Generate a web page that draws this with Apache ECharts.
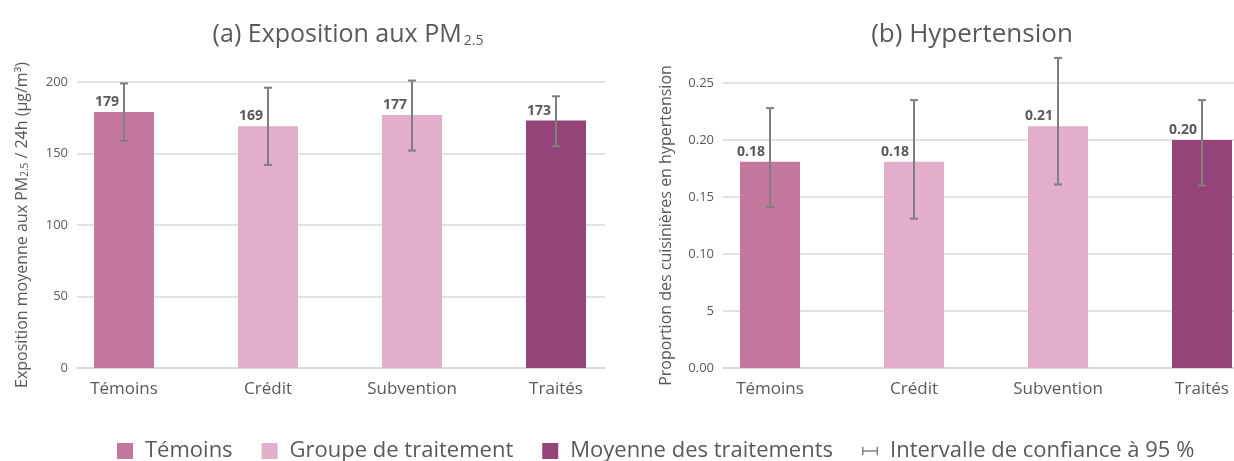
<!DOCTYPE html>
<html>
<head>
<meta charset="utf-8">
<script src="https://cdn.jsdelivr.net/npm/echarts@6/dist/echarts.min.js"></script>
<style>
  html, body { margin: 0; padding: 0; background: #fff; }
  #chart { width: 1234px; height: 461px; }
</style>
</head>
<body>
<div id="chart"></div>
<script>
// categories and groups
const categories = ['Témoins', 'Crédit', 'Subvention', 'Traités'];
const groupOf = ['Témoins', 'Groupe de traitement', 'Groupe de traitement', 'Moyenne des traitements'];
const groupNames = ['Témoins', 'Groupe de traitement', 'Moyenne des traitements'];
const groupColors = ['#C4779D', '#E3AEC9', '#944479'];
const ciName = 'Intervalle de confiance à 95 %';

// (a) exposition PM2.5
const pmMeans = [179, 169, 177, 173];
const pmLow = [159, 142, 152, 155];
const pmHigh = [199, 196, 201, 190];

// (b) hypertension
const htMeans = [0.181, 0.181, 0.212, 0.200];
const htLow = [0.141, 0.131, 0.161, 0.160];
const htHigh = [0.228, 0.235, 0.272, 0.235];
const htTicks = ['0.00', '5', '0.10', '0.15', '0.20', '0.25'];

const FONT = 'Open Sans';
const TXT = '#595959';
const GRID_C = '#d9d9d9';

const chart = echarts.init(document.getElementById('chart'));

// barres d'erreur
function errRender(params, api) {
    const x = api.value(0);
    const lo = api.coord([x, api.value(1)]);
    const hi = api.coord([x, api.value(2)]);
    const cap = 4;
    const st = { stroke: '#7f7f7f', lineWidth: 2 };
    return {
        type: 'group',
        children: [
            { type: 'line', shape: { x1: lo[0], y1: lo[1], x2: hi[0], y2: hi[1] }, style: st },
            { type: 'line', shape: { x1: lo[0] - cap, y1: lo[1], x2: lo[0] + cap, y2: lo[1] }, style: st },
            { type: 'line', shape: { x1: hi[0] - cap, y1: hi[1], x2: hi[0] + cap, y2: hi[1] }, style: st }
        ]
    };
}

function barSeries(means, axisIdx, stackName, fmt) {
    return groupNames.map((g, gi) => ({
        name: g,
        type: 'bar',
        xAxisIndex: axisIdx,
        yAxisIndex: axisIdx,
        stack: stackName,
        barWidth: 60,
        itemStyle: { color: groupColors[gi] },
        label: {
            show: true,
            // à gauche de la barre d'erreur
            position: [25, -3],
            verticalAlign: 'bottom',
            align: 'right',
            color: TXT,
            fontFamily: FONT,
            fontWeight: 'bold',
            fontSize: 14,
            formatter: p => fmt(p.value)
        },
        data: means.map((v, i) => groupOf[i] === g ? v : '-')
    }));
}

function errSeries(low, high, axisIdx) {
    return {
        name: ciName,
        type: 'custom',
        xAxisIndex: axisIdx,
        yAxisIndex: axisIdx,
        itemStyle: { color: '#808080' },
        z: 5,
        clip: false,
        encode: { x: 0, y: [1, 2] },
        renderItem: errRender,
        data: categories.map((c, i) => [i, low[i], high[i]])
    };
}

const yNameA = '{n|Exposition moyenne aux PM}{s|2.5}{n| / 24h (µg/m³)}';

chart.setOption({
    animation: false,
    title: [
        {
            text: '{t|(a) Exposition aux PM}{s|2.5}',
            left: 343, top: 17, textAlign: 'center',
            textStyle: {
                rich: {
                    t: { fontFamily: FONT, fontSize: 25, color: TXT, fontWeight: 'normal' },
                    s: { fontFamily: FONT, fontSize: 14, color: TXT, fontWeight: 'normal', verticalAlign: 'bottom', padding: [12, 0, 0, 2] }
                }
            }
        },
        {
            text: '(b) Hypertension',
            left: 967, top: 17, textAlign: 'center',
            textStyle: { fontFamily: FONT, fontSize: 26, color: TXT, fontWeight: 'normal' }
        }
    ],
    legend: {
        bottom: -6,
        left: 112,
        itemWidth: 16,
        itemHeight: 16,
        itemGap: 29,
        textStyle: { fontFamily: FONT, fontSize: 22, color: TXT, padding: [0, 0, 0, 7] },
        data: [
            { name: 'Témoins', icon: 'rect' },
            { name: 'Groupe de traitement', icon: 'rect' },
            { name: 'Moyenne des traitements', icon: 'rect' },
            { name: ciName, icon: 'path://M0,0h2v12h-2zM2,5h18v2h-18zM20,0h2v12h-2z' }
        ]
    },
    grid: [
        { left: 77, right: 629, top: 82, bottom: 93, outerBoundsMode: 'none' },
        { left: 52, width: 576, top: 82, bottom: 93, outerBoundsMode: 'none' },
        { left: 723, right: 0, top: 83, bottom: 93, outerBoundsMode: 'none' },
        { left: 698, width: 576, top: 83, bottom: 93, outerBoundsMode: 'none' }
    ],
    xAxis: [
        { gridIndex: 0, type: 'category', data: categories,
          axisLine: { show: true, lineStyle: { color: GRID_C, width: 2 } },
          axisTick: { show: false }, axisLabel: { show: false } },
        { gridIndex: 1, type: 'category', data: categories,
          axisLine: { show: false }, axisTick: { show: false },
          axisLabel: { color: TXT, fontFamily: FONT, fontSize: 17, margin: 13 } },
        { gridIndex: 2, type: 'category', data: categories,
          axisLine: { show: true, lineStyle: { color: GRID_C, width: 2 } },
          axisTick: { show: false }, axisLabel: { show: false } },
        { gridIndex: 3, type: 'category', data: categories,
          axisLine: { show: false }, axisTick: { show: false },
          axisLabel: { color: TXT, fontFamily: FONT, fontSize: 17, margin: 13 } }
    ],
    yAxis: [
        { gridIndex: 0, type: 'value', min: 0, max: 200, interval: 50,
          axisLine: { show: false }, axisTick: { show: false },
          axisLabel: { color: TXT, fontFamily: FONT, fontSize: 13, margin: 9 },
          splitLine: { lineStyle: { color: GRID_C, width: 1.5 } },
          name: yNameA, nameLocation: 'middle', nameGap: 47, nameRotate: 90, nameMoveOverlap: false,
          nameTextStyle: {
              rich: {
                  n: { fontFamily: FONT, fontSize: 16, color: TXT },
                  s: { fontFamily: FONT, fontSize: 10, color: TXT, verticalAlign: 'bottom' }
              }
          } },
        { gridIndex: 1, type: 'value', min: 0, max: 200, interval: 50, show: false },
        { gridIndex: 2, type: 'value', min: 0, max: 0.25, interval: 0.05,
          axisLine: { show: false }, axisTick: { show: false },
          axisLabel: { color: TXT, fontFamily: FONT, fontSize: 13, margin: 9,
                       formatter: v => htTicks[Math.round(v / 0.05)] },
          splitLine: { lineStyle: { color: GRID_C, width: 1.5 } },
          name: 'Proportion des cuisinières en hypertension', nameLocation: 'middle', nameGap: 49, nameRotate: 90, nameMoveOverlap: false,
          nameTextStyle: { fontFamily: FONT, fontSize: 16, color: TXT } },
        { gridIndex: 3, type: 'value', min: 0, max: 0.25, interval: 0.05, show: false }
    ],
    series: [
        ...barSeries(pmMeans, 1, 'pm', v => String(v)),
        errSeries(pmLow, pmHigh, 1),
        ...barSeries(htMeans, 3, 'ht', v => v.toFixed(2)),
        errSeries(htLow, htHigh, 3)
    ]
});
</script>
</body>
</html>
